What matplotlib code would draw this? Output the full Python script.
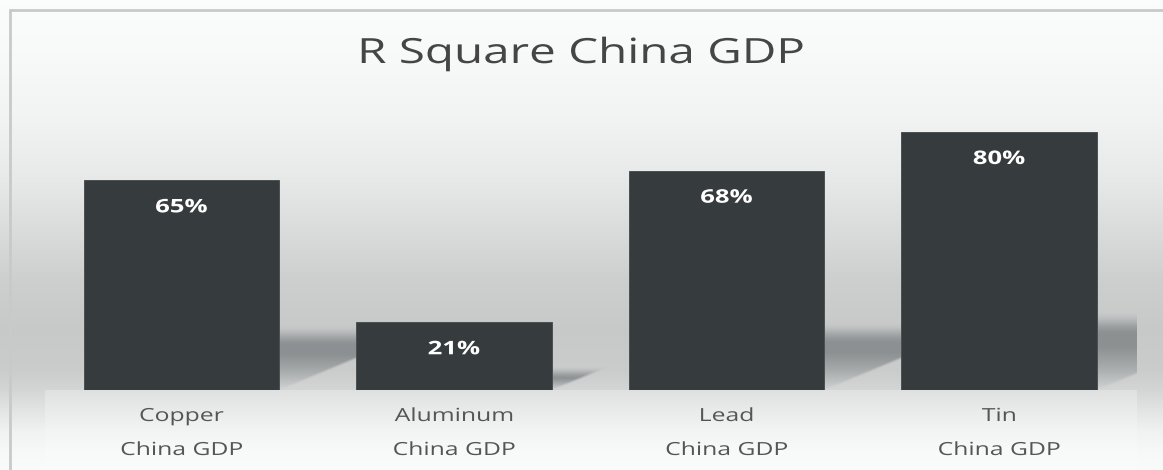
import numpy as np
import matplotlib
matplotlib.use("Agg")
import matplotlib.pyplot as plt
from matplotlib import patheffects
from matplotlib.transforms import Affine2D, offset_copy
from matplotlib.patches import Rectangle

# ---- data ---------------------------------------------------------------
metals = ["Copper", "Aluminum", "Lead", "Tin"]
drivers = ["China GDP", "China GDP", "China GDP", "China GDP"]
r_square = [0.65, 0.21, 0.68, 0.80]
title = "R Square China GDP"

# ---- canvas -------------------------------------------------------------
W, H, DPI = 1163, 470, 100
SX = 1.37            # horizontal stretch applied to every text
FONT = "Open Sans"


class HStretch(patheffects.AbstractPathEffect):
    """Widen glyphs horizontally about their own centre."""

    def __init__(self, sx):
        super().__init__()
        self._sx = sx

    def draw_path(self, renderer, gc, tpath, affine, rgbFace=None):
        ext = tpath.get_extents(affine)
        cx = 0.5 * (ext.x0 + ext.x1)
        wide = affine + Affine2D().translate(-cx, 0).scale(self._sx, 1).translate(cx, 0)
        renderer.draw_path(gc, tpath, wide, rgbFace)


wide = [HStretch(SX)]

fig = plt.figure(figsize=(W / DPI, H / DPI), dpi=DPI)

# plot area (pixels)
px_left, px_right = 45.25, 1135.25
px_base = 80.0          # baseline height above the bottom edge
px_unit = 322.5         # pixels for an R^2 of 1.0
ax = fig.add_axes([px_left / W, px_base / H, (px_right - px_left) / W, px_unit / H])
ax.set_xlim(-0.5, len(metals) - 0.5)
ax.set_ylim(0, 1)
ax.set_axis_off()

xpos = np.arange(len(metals))
bar_w = 0.716
ax.bar(xpos, r_square, width=bar_w, color="#363b3e", edgecolor="#4b5053",
       linewidth=0.7, zorder=3)

# ---- background: vertical gradient, floor band and bar shadows -----------
rows = np.arange(H) + 0.5
cols = np.arange(W) + 0.5
grad_y = [0, 10, 60, 120, 180, 230, 280, 330, 370, 390, 410, 430, 450, 470]
grad_v = [253, 252, 249, 243, 233, 220, 207, 201, 204, 213, 228, 241, 248, 251]
g = np.interp(rows, grad_y, grad_v)
img = np.empty((H, W, 3))
img[..., 0] = g[:, None] - 1.5
img[..., 1] = g[:, None] + 0.5
img[..., 2] = g[:, None] + 0.5

base_row = H - px_base
in_plot = (cols >= px_left) & (cols <= px_right + 2)
floor_y = [base_row, base_row + 20, base_row + 40, base_row + 60, H]
floor_v = [224, 234, 243, 249, 251]
fv = np.interp(rows, floor_y, floor_v)
below = rows >= base_row
for c in range(3):
    layer = img[..., c]
    layer[np.ix_(below, in_plot)] = fv[below][:, None] + (-1.0 if c == 0 else 0.5)

yy, xx = np.meshgrid(rows, cols, indexing="ij")
alpha = np.zeros((H, W))


def soft(z):
    z = np.clip(0.5 + 0.5 * z, 0, 1)
    return z * z * (3 - 2 * z)


for i, v in enumerate(r_square):
    (xl, _), (xr, ytop) = ax.transData.transform([(i - bar_w / 2, 0), (i + bar_w / 2, v)])
    top_row = H - ytop
    h = base_row - top_row
    dy = 0.26 * h
    k = 2.4
    d = base_row - yy
    shift = xx - d * k
    m_diag = soft((xr - shift) / 5.0)
    m_top = soft((dy - d) / (0.12 * dy + 4))
    prof = 0.42 * np.clip(d / (0.65 * dy), 0, 1) ** 0.9
    a = prof * m_diag * m_top * (d >= 0) * (xx >= xr - 1) * (xx <= px_right + 2)
    alpha = np.maximum(alpha, a)

shadow_rgb = np.array([58, 64, 68])
img = img * (1 - alpha[..., None]) + shadow_rgb * alpha[..., None]
img = np.clip(img, 0, 255) / 255.0

bg = fig.add_axes([0, 0, 1, 1], zorder=-1)
bg.imshow(img, extent=(0, W, H, 0), aspect="auto", interpolation="nearest")
bg.set_xlim(0, W)
bg.set_ylim(H, 0)
bg.set_axis_off()

# outer chart border (runs past the right and bottom edges)
fig.add_artist(Rectangle((10 / W, -0.2), 1.2, 1.2 - 9.5 / H, transform=fig.transFigure,
                         fill=False, edgecolor="#c9c9c9", linewidth=2.0, zorder=5))

# ---- texts --------------------------------------------------------------
fig.text(0.5, 1 - 63 / H, title, ha="center", va="baseline", fontsize=25,
         color="#454545", family=FONT, path_effects=wide)

lab_tr1 = offset_copy(ax.transData, fig=fig, y=-31, units="dots")
lab_tr2 = offset_copy(ax.transData, fig=fig, y=-65, units="dots")
val_tr = offset_copy(ax.transData, fig=fig, y=-32, units="dots")
for i, (m, dname, v) in enumerate(zip(metals, drivers, r_square)):
    ax.text(i, 0, m, transform=lab_tr1, ha="center", va="baseline", fontsize=13,
            color="#555555", family=FONT, path_effects=wide, clip_on=False)
    ax.text(i, 0, dname, transform=lab_tr2, ha="center", va="baseline", fontsize=13,
            color="#555555", family=FONT, path_effects=wide, clip_on=False)
    ax.text(i, v, f"{v * 100:.0f}%", transform=val_tr, ha="center", va="baseline",
            fontsize=13.5, fontweight="bold", color="white", family=FONT,
            path_effects=wide, zorder=4)

fig.savefig("out.png", dpi=DPI)
